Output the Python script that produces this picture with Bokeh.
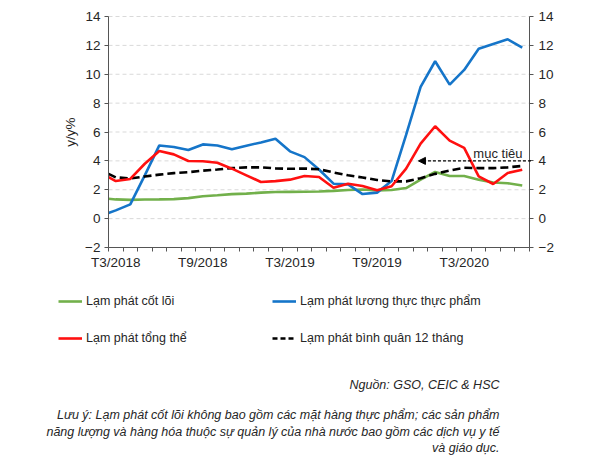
import math
from bokeh.plotting import figure
from bokeh.models import (Range1d, LinearAxis, FixedTicker, Legend, LegendItem,
                          Label, Arrow, NormalHead)
from bokeh.embed import file_html
from bokeh.resources import INLINE

# ---------------- data ----------------
# months from T2/2018 (partly outside the axis) to T7/2020
months = ["T2/2018", "T3/2018", "T4/2018", "T5/2018", "T6/2018", "T7/2018", "T8/2018",
          "T9/2018", "T10/2018", "T11/2018", "T12/2018", "T1/2019", "T2/2019",
          "T3/2019", "T4/2019", "T5/2019", "T6/2019", "T7/2019", "T8/2019",
          "T9/2019", "T10/2019", "T11/2019", "T12/2019", "T1/2020", "T2/2020",
          "T3/2020", "T4/2020", "T5/2020", "T6/2020", "T7/2020"]

core = [1.43, 1.33, 1.30, 1.32, 1.33, 1.35, 1.42, 1.55, 1.62, 1.70, 1.73, 1.80, 1.84,
        1.85, 1.86, 1.88, 1.92, 1.98, 2.02, 1.96, 1.98, 2.12, 2.70, 3.23, 2.95,
        2.95, 2.70, 2.50, 2.45, 2.30]

food = [0.21, 0.57, 0.99, 3.00, 5.07, 4.96, 4.75, 5.14, 5.07, 4.80, 5.05, 5.28, 5.53,
        4.66, 4.26, 3.40, 2.42, 2.37, 1.70, 1.80, 2.60, 5.80, 9.13, 10.90, 9.28,
        10.30, 11.76, 12.10, 12.42, 11.85]

headline = [3.16, 2.60, 2.75, 3.80, 4.68, 4.45, 3.99, 3.97, 3.87, 3.46, 3.00, 2.54, 2.60,
            2.70, 2.95, 2.88, 2.14, 2.42, 2.26, 1.96, 2.24, 3.46, 5.20, 6.40, 5.40,
            4.90, 2.93, 2.40, 3.16, 3.39]

avg12 = [3.34, 2.86, 2.78, 2.92, 3.05, 3.15, 3.22, 3.32, 3.40, 3.50, 3.55, 3.55, 3.48,
         3.45, 3.47, 3.42, 3.20, 3.00, 2.85, 2.68, 2.58, 2.58, 2.80, 3.10, 3.33,
         3.52, 3.50, 3.50, 3.55, 3.65]

x_tick_labels = ["T3/2018", "T9/2018", "T3/2019", "T9/2019", "T3/2020"]
y_ticks = [-2, 0, 2, 4, 6, 8, 10, 12, 14]
target = 4.0

names = {
    "core": "Lạm phát cốt lõi",
    "food": "Lạm phát lương thực thực phẩm",
    "headline": "Lạm phát tổng thể",
    "avg12": "Lạm phát bình quân 12 tháng",
}
y_title = "y/y%"
target_text = "mục tiêu"
source_text = "Nguồn: GSO, CEIC & HSC"
note_lines = [
    "Lưu ý: Lạm phát cốt lõi không bao gồm các mặt hàng thực phẩm; các sản phẩm",
    "năng lượng và hàng hóa thuộc sự quản lý của nhà nước bao gồm các dịch vụ y tế",
    "và giáo dục.",
]

# ---------------- geometry (page pixels) ----------------
W, H = 600, 458
FL, FR, FT, FB = 108, 529, 16, 247          # chart area
xs = [i - 0.5 for i in range(len(months))]  # category i centred at i + 0.5
n_cat = len(months) - 1
y_lo, y_hi = y_ticks[0], y_ticks[-1]
label_pos = [months.index(m) - 0.5 for m in x_tick_labels]

PXM = (FR - FL) / n_cat
PXV = (FB - FT) / (y_hi - y_lo)


def dx(px):
    return (px - FL) / PXM


def dy(py):
    return y_lo + (FB - py) / PXV


FONT = "Liberation Sans"
TXT = "#262626"
AXC = "#555555"

p = figure(width=W, height=H, x_range=Range1d(dx(0), dx(W)), y_range=Range1d(dy(H), dy(0)),
           output_backend="svg", toolbar_location=None, min_border=0,
           x_axis_type=None, y_axis_type=None)
p.outline_line_color = None
p.background_fill_color = "white"
p.border_fill_color = "white"

# horizontal dashed grid lines, limited to the chart area
p.segment(x0=[0] * (len(y_ticks) - 1), x1=[n_cat] * (len(y_ticks) - 1),
          y0=y_ticks[1:], y1=y_ticks[1:], line_color="#d9d9d9", line_width=1,
          line_dash="4 3")

yticker = FixedTicker(ticks=y_ticks)


def y_axis(loc, side, standoff):
    ax = LinearAxis(ticker=yticker, fixed_location=loc, bounds=(y_lo, y_hi))
    ax.axis_line_color = AXC
    ax.major_tick_line_color = AXC
    ax.major_tick_out = 4
    ax.major_tick_in = 0
    ax.minor_tick_line_color = None
    ax.major_label_text_font = FONT
    ax.major_label_text_font_size = "13.5px"
    ax.major_label_text_color = TXT
    ax.major_label_standoff = standoff
    p.add_layout(ax, side)


y_axis(0, "left", 4)
y_axis(n_cat, "right", 5)

xa = LinearAxis(fixed_location=y_lo, bounds=(0, n_cat),
                ticker=FixedTicker(ticks=label_pos, minor_ticks=list(range(0, n_cat + 1))))
xa.major_label_overrides = {pos: lab for pos, lab in zip(label_pos, x_tick_labels)}
xa.major_tick_line_color = None
xa.major_tick_out = 0
xa.major_tick_in = 0
xa.minor_tick_line_color = AXC
xa.minor_tick_out = 4
xa.minor_tick_in = 0
xa.axis_line_color = AXC
xa.major_label_text_font = FONT
xa.major_label_text_font_size = "13.5px"
xa.major_label_text_color = TXT
xa.major_label_standoff = 3
p.add_layout(xa, "below")

p.add_layout(Label(x=dx(70), y=(y_lo + y_hi) / 2, text=y_title, angle=math.pi / 2,
                   text_align="center", text_baseline="middle", text_font=FONT,
                   text_font_size="13.5px", text_color=TXT))

GREEN = "#72B04B"
BLUE = "#1575C9"
RED = "#FF1010"
LW = 2.6


# clip the series at the chart's left edge (T2/2018 only gives the entry slope)
def clipped(vals):
    x0, x1, v0, v1 = xs[0], xs[1], vals[0], vals[1]
    v_edge = v0 + (v1 - v0) * (0 - x0) / (x1 - x0)
    return [0] + xs[1:], [v_edge] + vals[1:]


r_core = p.line(*clipped(core), line_color=GREEN, line_width=LW)
r_food = p.line(*clipped(food), line_color=BLUE, line_width=LW)
r_avg = p.line(*clipped(avg12), line_color="black", line_width=LW, line_dash="8 4")
r_head = p.line(*clipped(headline), line_color=RED, line_width=LW)

# legend-only renderer for the 12-month average (shorter dashes); its single
# point is not a number, so nothing is drawn in the chart
l_avg = p.line(x=[xs[1]], y=[float("nan")], line_color="black", line_width=LW,
               line_dash="5 3")

# target arrow
p.add_layout(Arrow(end=NormalHead(size=7, fill_color="black", line_color="black"),
                   x_start=n_cat + 0.1, y_start=target, x_end=21.35, y_end=target,
                   line_color="black", line_width=1.3, line_dash="3 2"))
p.add_layout(Label(x=dx(522), y=target, text=target_text, text_align="right",
                   text_baseline="alphabetic", y_offset=7, text_font=FONT,
                   text_font_size="13px", text_color=TXT))


def legend(items, left_px):
    lg = Legend(items=items, location=(left_px, H - 348), orientation="vertical",
                glyph_width=24, glyph_height=20, label_standoff=4, spacing=17,
                padding=0, margin=0, border_line_color=None,
                background_fill_alpha=0, label_text_font=FONT,
                label_text_font_size="12.5px", label_text_color=TXT)
    p.add_layout(lg)


legend([LegendItem(label=names["core"], renderers=[r_core]),
        LegendItem(label=names["headline"], renderers=[r_head])], 58)
legend([LegendItem(label=names["food"], renderers=[r_food]),
        LegendItem(label=names["avg12"], renderers=[l_avg])], 272)

p.add_layout(Label(x=dx(499), y=dy(384), text=source_text, text_align="right",
                   text_baseline="middle", text_font=FONT, text_font_size="12.5px",
                   text_font_style="italic", text_color=TXT))
for line, ypx in zip(note_lines, [414, 431, 447.5]):
    p.add_layout(Label(x=dx(499), y=dy(ypx), text=line, text_align="right",
                       text_baseline="middle", text_font=FONT, text_font_size="12.5px",
                       text_font_style="italic", text_color=TXT))

open("out.html", "w").write(file_html(p, INLINE))
